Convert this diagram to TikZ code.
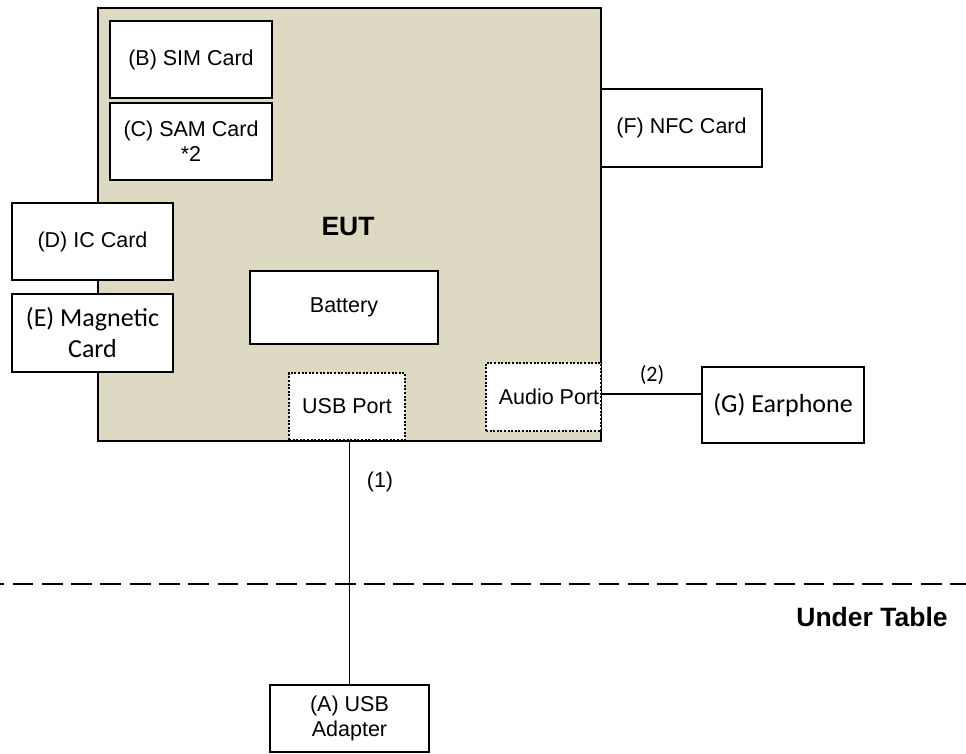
\documentclass[tikz,border=0pt]{standalone}
\usepackage{fontspec}
\setmainfont{Liberation Sans}
\newfontfamily\calibri{Carlito}
\definecolor{eutfill}{RGB}{221,217,195}
\begin{document}
\begin{tikzpicture}[x=1pt,y=-1pt,
  box/.style={draw=black, line width=2pt, fill=white, inner sep=0pt,
    align=center, font=\fontsize{21.5}{25}\selectfont},
  calbox/.style={box, font=\calibri\fontsize{26}{31}\selectfont},
  portbox/.style={box, dash pattern=on 2pt off 1.6pt},
  eutbox/.style={draw=black, line width=2pt, fill=eutfill, inner sep=0pt},
  boldtxt/.style={inner sep=0pt, font=\bfseries\fontsize{26.5}{31}\selectfont},
  plaintxt/.style={inner sep=0pt, font=\fontsize{21.5}{25}\selectfont},
  caltxt/.style={inner sep=0pt, font=\calibri\fontsize{22}{26}\selectfont},
  cable/.style={draw=black, line width=1.5pt},
  tableline/.style={draw=black, line width=2pt, dash pattern=on 20.8pt off 8.5pt, dash phase=16.8pt}]
\useasboundingbox (0,0) rectangle (966,754);

% equipment under test
\node[eutbox, minimum width=503pt, minimum height=433pt] (eut) at (349.5,224.5) {};
\node[boldtxt] (euttxt) at (348,227) {EUT};

% cards and internal parts
\node[box, minimum width=162pt, minimum height=77pt] (sim) at (191,59.5) {(B) SIM Card};
\node[box, minimum width=162pt, minimum height=77pt] (sam) at (191,141.5) {(C) SAM Card\\*2};
\node[box, minimum width=161pt, minimum height=77pt] (ic) at (92.5,241.5) {(D) IC Card};
\node[calbox, minimum width=161pt, minimum height=78pt] (mag) at (92.5,333) {(E) Magnetic\\Card};
\node[box, minimum width=188pt, minimum height=73pt] (bat) at (344,307.5) {Battery};
\node[box, minimum width=161pt, minimum height=78pt] (nfc) at (681.5,128) {(F) NFC Card};

% ports
\node[portbox, minimum width=116pt, minimum height=67pt] (usb) at (347,406.5) {USB Port};
\node[portbox, minimum width=115pt, minimum height=68pt] (audio) at (543.5,397) {};
\node[plaintxt] (audiotxt) at (549,397) {Audio Port};

% peripherals
\node[calbox, minimum width=162pt, minimum height=76pt] (ear) at (783,405) {(G) Earphone};
\node[box, minimum width=159pt, minimum height=67pt] (adapter) at (349.5,718.5) {(A) USB\\Adapter};

% cables
\draw[cable] ([yshift=3pt]audio.east) -- ([yshift=3pt]audio.east -| ear.west);
\draw[cable] (usb.south -| adapter.north) -- (adapter.north);
\node[caltxt] (lbl2) at (652,375) {(2)};
\node[plaintxt] (lbl1) at (380,482) {(1)};

% table edge
\coordinate (tableL) at (0,584);
\coordinate (tableR) at (966,584);
\draw[tableline] (tableL) -- (tableR);
\node[boldtxt] (under) at (872,617) {Under Table};
\end{tikzpicture}
\end{document}
